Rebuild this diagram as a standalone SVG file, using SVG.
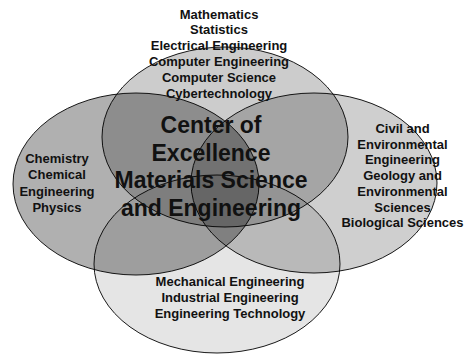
<svg xmlns="http://www.w3.org/2000/svg" width="467" height="355" viewBox="0 0 467 355">
<style>
.e{fill:#000;stroke:#000;stroke-width:0.9}
.t{font-family:"Liberation Sans",Arial,sans-serif;font-weight:bold;font-size:13px;fill:#111;text-anchor:middle}
.c{font-family:"Liberation Sans",Arial,sans-serif;font-weight:bold;font-size:23px;fill:#111;text-anchor:middle}
</style>
<rect width="467" height="355" fill="#fff"/>
<g id="top"><ellipse class="e" cx="225" cy="137" rx="123" ry="90" fill-opacity="0.2"/></g>
<g id="left"><ellipse class="e" cx="136" cy="184" rx="123" ry="91" fill-opacity="0.31"/></g>
<g id="right"><ellipse class="e" cx="314" cy="183" rx="123" ry="90" fill-opacity="0.19"/></g>
<g id="bottom"><ellipse class="e" cx="217" cy="264" rx="123" ry="89" fill-opacity="0.1"/></g>
<g id="connectors"></g>
<g id="top-label">
<text class="t" x="219" y="18.5">Mathematics</text>
<text class="t" x="219" y="34.3">Statistics</text>
<text class="t" x="219" y="50.1">Electrical Engineering</text>
<text class="t" x="219" y="65.9">Computer Engineering</text>
<text class="t" x="219" y="81.7">Computer Science</text>
<text class="t" x="219" y="97.5">Cybertechnology</text>
</g>
<g id="left-label">
<text class="t" x="57" y="163">Chemistry</text>
<text class="t" x="57" y="179.3">Chemical</text>
<text class="t" x="57" y="195.6">Engineering</text>
<text class="t" x="57" y="211.9">Physics</text>
</g>
<g id="right-label">
<text class="t" x="402.5" y="133">Civil and</text>
<text class="t" x="402.5" y="148.7">Environmental</text>
<text class="t" x="402.5" y="164.4">Engineering</text>
<text class="t" x="402.5" y="180.1">Geology and</text>
<text class="t" x="402.5" y="195.8">Environmental</text>
<text class="t" x="402.5" y="211.5">Sciences</text>
<text class="t" x="402.5" y="227.2">Biological Sciences</text>
</g>
<g id="bottom-label">
<text class="t" x="230" y="286">Mechanical Engineering</text>
<text class="t" x="230" y="302">Industrial Engineering</text>
<text class="t" x="230" y="318">Engineering Technology</text>
</g>
<g id="center-label">
<text class="c" x="211" y="133">Center of</text>
<text class="c" x="211" y="160.5">Excellence</text>
<text class="c" x="211" y="188">Materials Science</text>
<text class="c" x="211" y="215.5">and Engineering</text>
</g>
</svg>
